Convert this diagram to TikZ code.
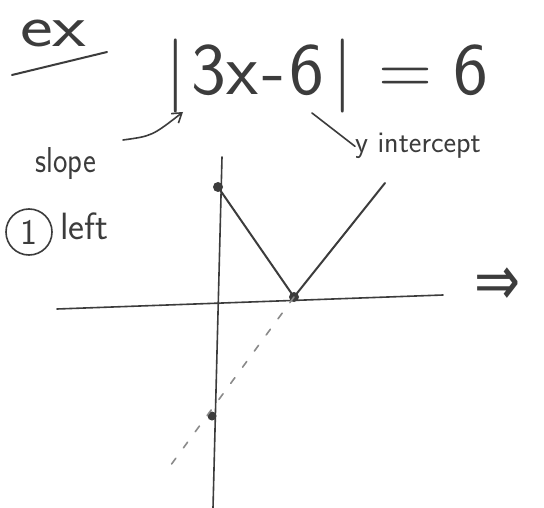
\documentclass[tikz,border=0pt]{standalone}
\usepackage{fontspec}
\newfontfamily\sym{DejaVu Sans}
\usetikzlibrary{arrows.meta}
\begin{document}
\begin{tikzpicture}[x=1pt,y=-1pt,line cap=round,line join=round]
\definecolor{ink}{HTML}{3C3C3C}
\definecolor{faint}{HTML}{8A8A8A}
\tikzset{
  pen/.style={draw=ink,line width=2pt},
  thin pen/.style={draw=ink,line width=1.6pt},
  label/.style={text=ink,inner sep=0pt},
  dot/.style={circle,fill=ink,draw=none,inner sep=0pt,minimum size=10pt},
}
\useasboundingbox[fill=white] (0,0) rectangle (544,508);
% header
\node[label,font=\fontsize{60}{60}\selectfont\sffamily,anchor=base west,xscale=1.3] (ex) at (20,47) {ex};
\coordinate (ul1) at (12,75);
\coordinate (ul2) at (107,52);
\draw[pen] (ul1) -- (ul2);
\node[label,font=\fontsize{74}{74}\selectfont\sffamily,anchor=base west] (eq) at (165,95) {|\hspace{6pt}3x\hspace{4pt}-\hspace{4pt}6\hspace{8pt}|\hspace{26pt}=\hspace{20pt}6};
% slope
\node[label,font=\fontsize{36}{36}\selectfont\sffamily,anchor=base,xscale=0.85] (slope) at (66,173) {slope};
\coordinate (sa) at (123,140);
\coordinate (sb) at (183,112);
\draw[thin pen,-{Straight Barb[length=9pt,width=12pt]}] (sa) .. controls (152,136) .. (sb);
% y intercept
\node[label,font=\fontsize{30}{30}\selectfont\sffamily,anchor=base west] (yint) at (355,153) {y intercept};
\coordinate (ya) at (312,113);
\draw[thin pen] (ya) -- (yint.west);
% (1) left
\node[circle,draw=ink,line width=1.6pt,minimum size=46pt,inner sep=0pt,text=ink,font=\fontsize{36}{36}\selectfont\sffamily] (one) at (29,232) {1};
\node[label,font=\fontsize{38}{38}\selectfont\sffamily,anchor=base west] (left) at (60,240) {left};
% implies
\node[label,font=\fontsize{55}{55}\selectfont\sym,yscale=1.3] (imp) at (498,287) {⇒};
% axes
\coordinate (xl) at (57,309);
\coordinate (xr) at (443,295);
\coordinate (yt) at (222,157);
\coordinate (yb) at (213,508);
\draw[thin pen] (xl) -- (xr);
\draw[thin pen] (yt) -- (yb);
% graph
\node[dot] (A) at (218,187) {};
\node[dot] (V) at (294,297) {};
\node[dot,minimum size=9pt] (B) at (212,416) {};
\coordinate (R) at (385,183);
\coordinate (D) at (165,473);
\draw[pen] (A.center) -- (V.center) -- (R);
\draw[draw=faint,line width=1.6pt,dash pattern=on 7pt off 13pt] (V.center) -- (D);
\end{tikzpicture}
\end{document}
